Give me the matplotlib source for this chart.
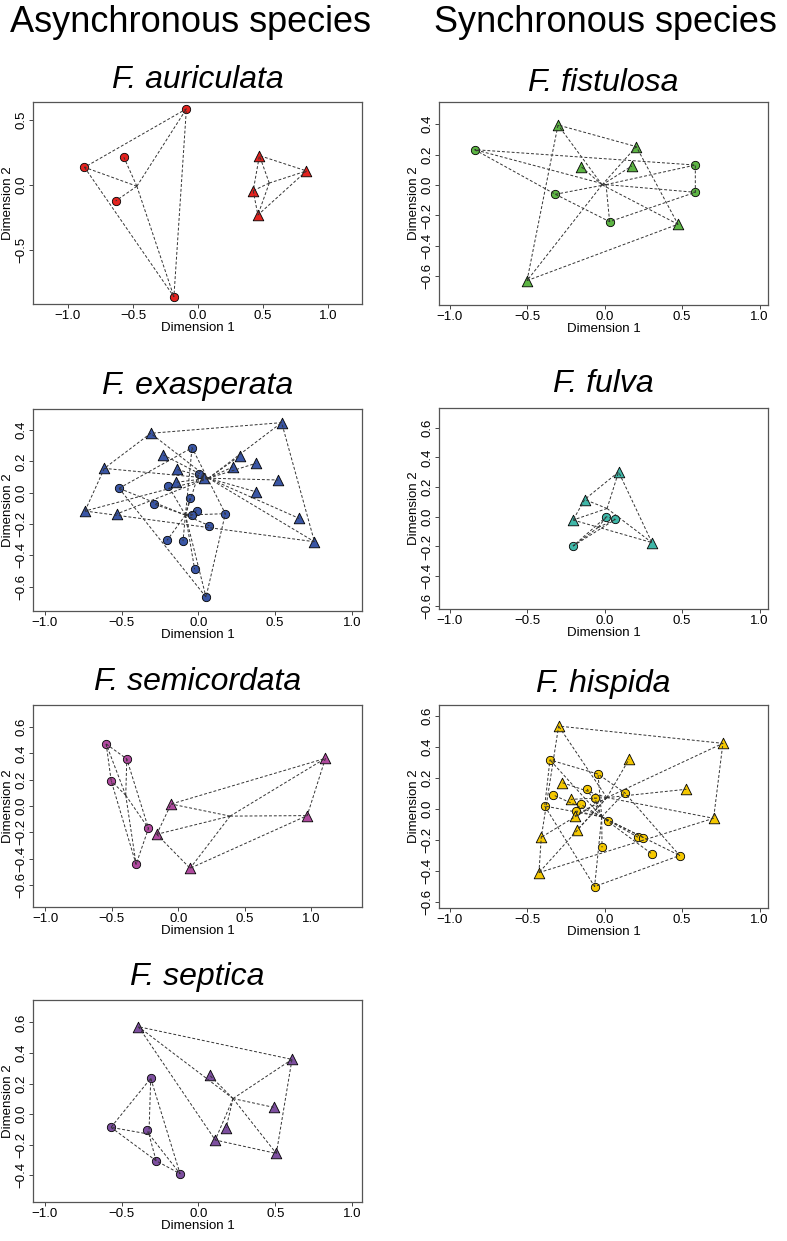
import numpy as np
import matplotlib
matplotlib.use('Agg')
import matplotlib.pyplot as plt

plt.rcParams['font.family'] = ['Liberation Sans', 'DejaVu Sans']

W, H = 787, 1241

# NMDS scores (x = Dimension 1, y = Dimension 2)
# circles = one group, triangles = the other
auric_cx = [-0.089, -0.570, -0.873, -0.633, -0.185]
auric_cy = [0.585, 0.213, 0.136, -0.123, -0.859]
auric_tx = [0.473, 0.835, 0.425, 0.461]
auric_ty = [0.226, 0.108, -0.044, -0.231]

fistu_cx = [-0.839, -0.318, 0.032, 0.585, 0.585]
fistu_cy = [0.232, -0.061, -0.241, 0.131, -0.048]
fistu_tx = [-0.301, -0.151, 0.204, 0.176, 0.473, -0.501]
fistu_ty = [0.394, 0.120, 0.252, 0.125, -0.258, -0.628]

exasp_cx = [-0.041, 0.002, -0.517, -0.196, -0.054, -0.291, -0.011,
            -0.041, 0.176, 0.072, -0.204, -0.100, -0.024, 0.050]
exasp_cy = [0.287, 0.119, 0.028, 0.043, -0.032, -0.072, -0.115,
            -0.143, -0.134, -0.211, -0.304, -0.309, -0.489, -0.666]
exasp_tx = [-0.311, 0.543, -0.228, -0.613, -0.141, -0.146, 0.037, 0.272,
            0.228, 0.374, 0.522, 0.374, -0.739, -0.533, 0.657, 0.757]
exasp_ty = [0.379, 0.447, 0.240, 0.155, 0.149, 0.066, 0.096, 0.236,
            0.166, 0.187, 0.081, 0.006, -0.117, -0.136, -0.164, -0.313]

fulva_cx = [0.011, 0.069, -0.204]
fulva_cy = [0.000, -0.018, -0.197]
fulva_tx = [0.090, -0.129, -0.204, 0.305]
fulva_ty = [0.302, 0.116, -0.022, -0.174]

semic_cx = [-0.543, -0.388, -0.505, -0.225, -0.318]
semic_cy = [0.471, 0.357, 0.190, -0.170, -0.443]
semic_tx = [1.105, -0.055, 0.968, -0.163, 0.088]
semic_ty = [0.362, 0.015, -0.073, -0.215, -0.473]

hispi_cx = [-0.353, -0.043, -0.112, 0.129, -0.331, -0.065, -0.155, -0.387,
            -0.183, 0.022, 0.215, 0.249, -0.017, 0.308, 0.484, -0.065]
hispi_cy = [0.318, 0.227, 0.131, 0.107, 0.092, 0.075, 0.032, 0.021,
            -0.011, -0.075, -0.180, -0.182, -0.245, -0.290, -0.298, -0.498]
hispi_tx = [-0.297, 0.763, 0.157, -0.275, 0.527, -0.219, -0.194, 0.703,
            -0.178, -0.409, -0.424]
hispi_ty = [0.536, 0.425, 0.322, 0.172, 0.129, 0.064, -0.043, -0.058,
            -0.133, -0.180, -0.408]

septi_cx = [-0.311, -0.570, -0.337, -0.276, -0.120]
septi_cy = [0.234, -0.087, -0.107, -0.306, -0.391]
septi_tx = [-0.391, 0.609, 0.072, 0.489, 0.180, 0.109, 0.507]
septi_ty = [0.572, 0.358, 0.255, 0.044, -0.090, -0.170, -0.258]

names = ['F. auriculata', 'F. fistulosa', 'F. exasperata', 'F. fulva',
         'F. semicordata', 'F. hispida', 'F. septica']
colors = ['#e3231f', '#5db544', '#3a56a5', '#3fb7a8', '#b04a9f', '#f5c800', '#7d4f9f']
xticks = [-1.0, -0.5, 0.0, 0.5, 1.0]

data = [(auric_cx, auric_cy, auric_tx, auric_ty),
        (fistu_cx, fistu_cy, fistu_tx, fistu_ty),
        (exasp_cx, exasp_cy, exasp_tx, exasp_ty),
        (fulva_cx, fulva_cy, fulva_tx, fulva_ty),
        (semic_cx, semic_cy, semic_tx, semic_ty),
        (hispi_cx, hispi_cy, hispi_tx, hispi_ty),
        (septi_cx, septi_cy, septi_tx, septi_ty)]

# layout: axes box in pixels (left, top, right, bottom), limits, y ticks
boxes = [(33, 102, 362, 304), (439, 102, 768, 305),
         (33, 409, 362, 611), (439, 408, 768, 609),
         (33, 705, 362, 907), (439, 705, 768, 908),
         (33, 1000, 362, 1202)]
xlims = [(-1.269, 1.262), (-1.069, 1.054), (-1.078, 1.067), (-1.069, 1.054),
         (-1.093, 1.38), (-1.069, 1.054), (-1.078, 1.065)]
ylims = [(-0.915, 0.638), (-0.788, 0.545), (-0.755, 0.534), (-0.621, 0.732),
         (-0.767, 0.767), (-0.636, 0.672), (-0.576, 0.747)]
yticks = [[-0.5, 0.0, 0.5],
          [-0.6, -0.4, -0.2, 0.0, 0.2, 0.4],
          [-0.6, -0.4, -0.2, 0.0, 0.2, 0.4],
          [-0.6, -0.4, -0.2, 0.0, 0.2, 0.4, 0.6],
          [-0.6, -0.4, -0.2, 0.0, 0.2, 0.4, 0.6],
          [-0.6, -0.4, -0.2, 0.0, 0.2, 0.4, 0.6],
          [-0.4, -0.2, 0.0, 0.2, 0.4, 0.6]]
title_base = [88, 91, 394, 392, 690, 692, 985]

dash = dict(color='#333333', lw=0.7, ls=(0, (3, 2)), zorder=3)


def fmt(v):
    return ('%.1f' % v).replace('-', '\u2212')


def hull(x, y):
    # convex hull (monotone chain), closed
    pts = sorted(zip(x, y))
    if len(pts) < 3:
        return [p[0] for p in pts], [p[1] for p in pts]

    def cross(o, a, b):
        return (a[0] - o[0]) * (b[1] - o[1]) - (a[1] - o[1]) * (b[0] - o[0])
    lower, upper = [], []
    for p in pts:
        while len(lower) >= 2 and cross(lower[-2], lower[-1], p) <= 0:
            lower.pop()
        lower.append(p)
    for p in reversed(pts):
        while len(upper) >= 2 and cross(upper[-2], upper[-1], p) <= 0:
            upper.pop()
        upper.append(p)
    h = lower[:-1] + upper[:-1]
    h.append(h[0])
    return [p[0] for p in h], [p[1] for p in h]


def hull_and_spider(ax, x, y):
    hx, hy = hull(x, y)
    ax.plot(hx, hy, **dash)
    mx, my = np.mean(x), np.mean(y)
    for px, py in zip(x, y):
        ax.plot([mx, px], [my, py], **dash)


fig = plt.figure(figsize=(W / 100, H / 100), dpi=100)

fig.text(10 / W, 1 - 32 / H, 'Asynchronous species', fontsize=26, va='baseline', ha='left')
fig.text(434 / W, 1 - 32 / H, 'Synchronous species', fontsize=26, va='baseline', ha='left')

for i, (cx, cy, tx, ty) in enumerate(data):
    l, t, r, b = boxes[i]
    ax = fig.add_axes([l / W, 1 - b / H, (r - l) / W, (b - t) / H])
    ax.scatter(cx, cy, s=36, marker='o', c=colors[i], edgecolors='black',
               linewidths=0.6, zorder=2)
    ax.scatter(tx, ty, s=58, marker='^', c=colors[i], edgecolors='black',
               linewidths=0.6, zorder=2)
    hull_and_spider(ax, cx, cy)
    hull_and_spider(ax, tx, ty)

    ax.set_xlim(*xlims[i])
    ax.set_ylim(*ylims[i])
    ax.set_xticks(xticks)
    ax.set_yticks(yticks[i])
    ax.set_xticklabels([fmt(v) for v in xticks])
    ax.set_yticklabels([fmt(v) for v in yticks[i]])
    ax.tick_params(direction='out', length=3, width=0.7, pad=1,
                   labelsize=9.5, color='#444444')
    for lab in ax.get_yticklabels():
        lab.set_rotation(90)
        lab.set_va('center')
    for s in ax.spines.values():
        s.set_color('#555555')
        s.set_linewidth(0.9)
    ax.set_xlabel('Dimension 1', fontsize=9.5, labelpad=0)
    ax.set_ylabel('Dimension 2', fontsize=9.5, labelpad=1)

    fig.text((l + r) / 2 / W, 1 - title_base[i] / H, names[i], fontsize=23,
             style='italic', ha='center', va='baseline')

fig.savefig('out.png', dpi=100)
